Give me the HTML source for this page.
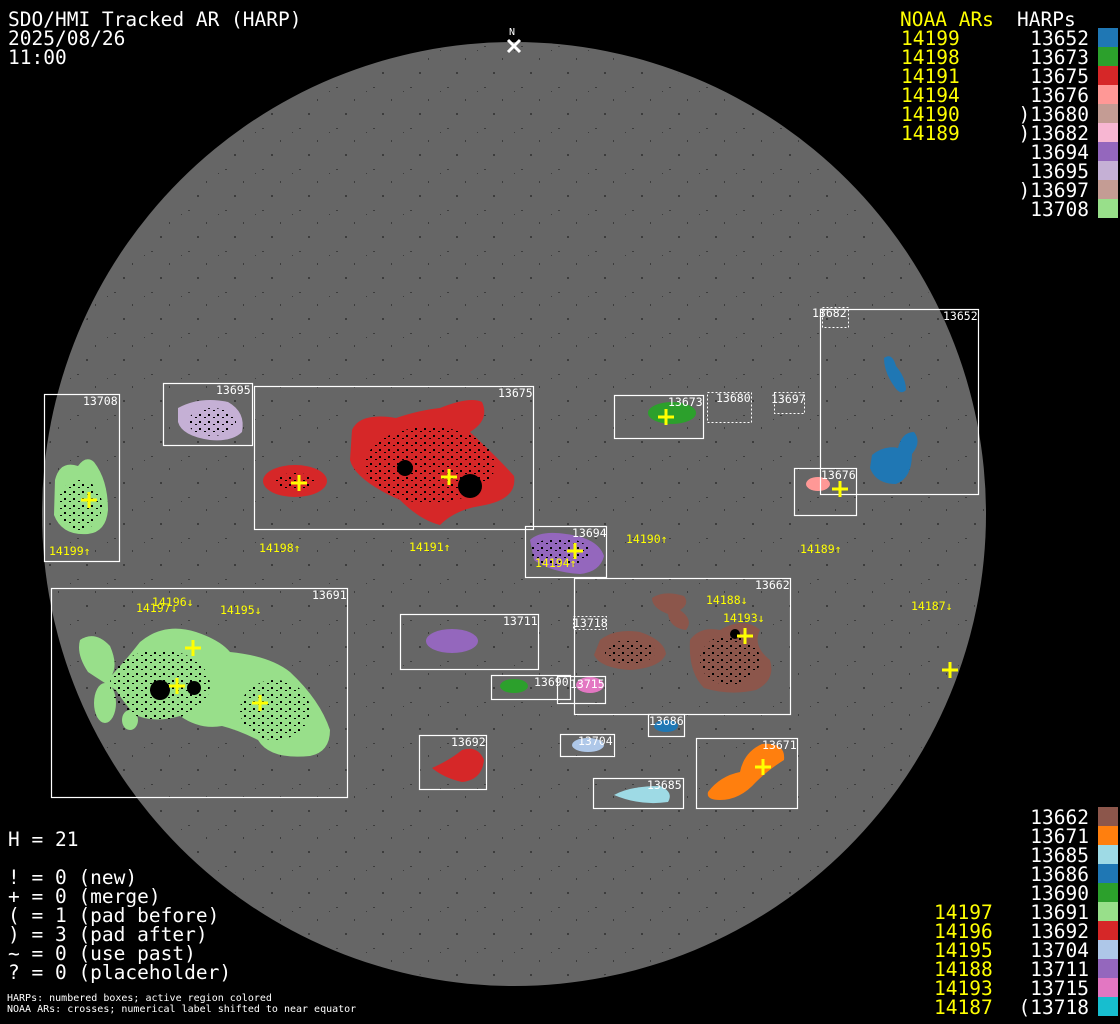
<!DOCTYPE html>
<html><head><meta charset="utf-8"><style>
html,body{margin:0;padding:0;background:#000;}
svg{display:block;}
.t{font-family:"DejaVu Sans Mono","Liberation Mono",monospace;font-size:19.5px;fill:#fff;}
.y{fill:#ffff00;}
.b{font-family:"DejaVu Sans Mono","Liberation Mono",monospace;font-size:11.5px;fill:#fff;}
.l{font-family:"DejaVu Sans Mono","Liberation Mono",monospace;font-size:11.5px;fill:#ffff00;}
.s{font-family:"DejaVu Sans Mono","Liberation Mono",monospace;font-size:10px;fill:#fff;}
.bx{fill:none;stroke:#fff;stroke-width:1.2;}
.dx{fill:none;stroke:#fff;stroke-width:1;stroke-dasharray:2 2;}
.cr{stroke:#ffff00;stroke-width:3;}
</style></head><body>
<svg width="1120" height="1024" viewBox="0 0 1120 1024" xmlns="http://www.w3.org/2000/svg">
<defs>
<pattern id="sp" width="37" height="41" patternUnits="userSpaceOnUse">
<rect x="3" y="5" width="2" height="1" fill="#000"/>
<rect x="21" y="17" width="1" height="2" fill="#000"/>
<rect x="12" y="31" width="2" height="2" fill="#000"/>
<rect x="33" y="9" width="1" height="1" fill="#000"/>
</pattern>
<pattern id="dk" width="9" height="7" patternUnits="userSpaceOnUse">
<rect x="1" y="1" width="2" height="2" fill="#000"/>
<rect x="6" y="4" width="2" height="1" fill="#000"/>
</pattern>
</defs>
<rect width="1120" height="1024" fill="#000"/>
<circle cx="514" cy="514" r="472" fill="#666"/>
<circle cx="514" cy="514" r="470" fill="url(#sp)" opacity="0.4"/>

<g>
<path d="M55,480 Q60,460 78,466 Q86,455 94,462 Q108,480 108,510 Q106,532 88,534 Q62,536 54,515 Z" fill="#98df8a"/>
<path d="M178,408 Q200,396 228,402 Q246,412 242,432 Q232,442 210,440 Q182,436 178,422 Z" fill="#c5b0d5"/>
<ellipse cx="295" cy="481" rx="32" ry="16" fill="#d62728"/>
<path d="M352,430 Q360,412 396,418 Q420,410 440,408 Q470,396 482,402 Q490,420 470,432 Q500,460 514,476 Q518,500 480,506 Q455,510 440,525 Q420,520 400,500 Q355,480 350,460 Z" fill="#d62728"/>
<circle cx="470" cy="486" r="12" fill="#000"/>
<circle cx="405" cy="468" r="8" fill="#000"/>
<ellipse cx="672" cy="413" rx="24" ry="11" fill="#2ca02c"/>
<path d="M884,358 Q892,352 896,366 Q906,378 906,390 Q900,396 894,386 Q884,372 884,358 Z" fill="#1f77b4"/>
<path d="M872,455 Q884,445 898,448 Q902,432 914,432 Q922,442 912,454 Q912,478 896,484 Q876,484 870,468 Z" fill="#1f77b4"/>
<ellipse cx="818" cy="484" rx="12" ry="7" fill="#ff9896"/>
<path d="M530,540 Q540,530 566,534 Q598,538 604,556 Q600,572 580,574 Q550,572 534,560 Z" fill="#9467bd"/>
<path d="M80,640 Q95,630 110,646 Q118,664 112,675 Q126,660 140,642 Q164,622 196,632 Q220,640 230,652 Q270,656 290,672 Q320,700 330,730 Q330,752 310,756 Q270,760 258,740 Q238,730 222,726 Q200,730 180,716 Q152,724 134,714 Q122,700 116,690 Q100,680 88,672 Q76,654 80,640 Z" fill="#98df8a"/>
<ellipse cx="105" cy="703" rx="11" ry="20" fill="#98df8a"/>
<ellipse cx="130" cy="720" rx="8" ry="10" fill="#98df8a"/>
<ellipse cx="452" cy="641" rx="26" ry="12" fill="#9467bd"/>
<ellipse cx="514" cy="686" rx="14" ry="7" fill="#2ca02c"/>
<ellipse cx="590" cy="685" rx="14" ry="8" fill="#e377c2"/>
<path d="M600,640 Q615,628 640,632 Q664,640 666,654 Q660,668 630,670 Q600,668 594,655 Z" fill="#8c564b"/>
<path d="M652,598 Q664,590 684,596 Q690,604 680,610 Q694,620 686,630 Q670,628 668,614 Q652,608 652,598 Z" fill="#8c564b"/>
<path d="M690,640 Q700,626 720,630 Q744,616 760,630 Q752,646 770,660 Q776,680 756,690 Q730,696 704,688 Q688,672 690,640 Z" fill="#8c564b"/>
<ellipse cx="666" cy="726" rx="12" ry="6" fill="#1f77b4"/>
<path d="M432,768 Q450,760 462,750 Q478,745 484,760 Q482,780 462,782 Q444,778 432,768 Z" fill="#d62728"/>
<ellipse cx="588" cy="745" rx="16" ry="7" fill="#aec7e8"/>
<path d="M708,792 Q720,776 740,772 Q744,752 762,744 Q786,742 784,760 Q768,770 756,782 Q740,800 720,800 Q706,800 708,792 Z" fill="#ff7f0e"/>
<path d="M614,795 Q630,786 660,786 Q674,792 668,802 Q640,806 614,795 Z" fill="#9edae5"/>
</g>
<g fill="url(#dk)">
<ellipse cx="80" cy="505" rx="22" ry="25"/>
<ellipse cx="212" cy="422" rx="24" ry="14"/>
<ellipse cx="295" cy="481" rx="20" ry="8"/>
<ellipse cx="430" cy="465" rx="65" ry="38"/>
<ellipse cx="160" cy="685" rx="50" ry="35"/>
<ellipse cx="275" cy="710" rx="35" ry="30"/>
<ellipse cx="630" cy="652" rx="25" ry="12"/>
<ellipse cx="730" cy="660" rx="30" ry="25"/>
<ellipse cx="560" cy="552" rx="30" ry="14"/>
</g>
<circle cx="160" cy="690" r="10" fill="#000"/>
<circle cx="194" cy="688" r="7" fill="#000"/>
<circle cx="735" cy="634" r="5" fill="#000"/>

<rect class="bx" x="44.5" y="394.5" width="75" height="167"/>
<rect class="bx" x="163.5" y="383.5" width="89" height="62"/>
<rect class="bx" x="254.5" y="386.5" width="279" height="143"/>
<rect class="bx" x="614.5" y="395.5" width="89" height="43"/>
<rect class="dx" x="707.5" y="392.5" width="44" height="30"/>
<rect class="dx" x="774.5" y="392.5" width="30" height="21"/>
<rect class="dx" x="822.5" y="307.5" width="26" height="20"/>
<rect class="bx" x="820.5" y="309.5" width="158" height="185"/>
<rect class="bx" x="794.5" y="468.5" width="62" height="47"/>
<rect class="bx" x="525.5" y="526.5" width="81" height="51"/>
<rect class="bx" x="51.5" y="588.5" width="296" height="209"/>
<rect class="bx" x="400.5" y="614.5" width="138" height="55"/>
<rect class="bx" x="574.5" y="578.5" width="216" height="136"/>
<rect class="dx" x="573.5" y="616.5" width="33" height="13"/>
<rect class="bx" x="491.5" y="675.5" width="79" height="24"/>
<rect class="bx" x="557.5" y="676.5" width="48" height="27"/>
<rect class="bx" x="648.5" y="714.5" width="36" height="22"/>
<rect class="bx" x="419.5" y="735.5" width="67" height="54"/>
<rect class="bx" x="560.5" y="734.5" width="54" height="22"/>
<rect class="bx" x="696.5" y="738.5" width="101" height="70"/>
<rect class="bx" x="593.5" y="778.5" width="90" height="30"/>

<text class="b" x="83" y="405">13708</text>
<text class="b" x="216" y="394">13695</text>
<text class="b" x="498" y="397">13675</text>
<text class="b" x="668" y="406">13673</text>
<text class="b" x="716" y="402">13680</text>
<text class="b" x="771" y="403">13697</text>
<text class="b" x="812" y="317">13682</text>
<text class="b" x="943" y="320">13652</text>
<text class="b" x="821" y="479">13676</text>
<text class="b" x="572" y="537">13694</text>
<text class="b" x="312" y="599">13691</text>
<text class="b" x="503" y="625">13711</text>
<text class="b" x="755" y="589">13662</text>
<text class="b" x="573" y="627">13718</text>
<text class="b" x="534" y="686">13690</text>
<text class="b" x="570" y="688">13715</text>
<text class="b" x="649" y="725">13686</text>
<text class="b" x="451" y="746">13692</text>
<text class="b" x="578" y="745">13704</text>
<text class="b" x="762" y="749">13671</text>
<text class="b" x="647" y="789">13685</text>

<text class="l" x="49" y="555">14199↑</text>
<text class="l" x="259" y="552">14198↑</text>
<text class="l" x="409" y="551">14191↑</text>
<text class="l" x="535" y="567">14194↑</text>
<text class="l" x="626" y="543">14190↑</text>
<text class="l" x="800" y="553">14189↑</text>
<text class="l" x="911" y="610">14187↓</text>
<text class="l" x="706" y="604">14188↓</text>
<text class="l" x="723" y="622">14193↓</text>
<text class="l" x="152" y="606">14196↓</text>
<text class="l" x="136" y="612">14197↓</text>
<text class="l" x="220" y="614">14195↓</text>

<g class="cr">
<path d="M81,500h16M89,492v16"/>
<path d="M291,483h16M299,475v16"/>
<path d="M441,477h16M449,469v16"/>
<path d="M658,417h16M666,409v16"/>
<path d="M832,489h16M840,481v16"/>
<path d="M567,551h16M575,543v16"/>
<path d="M737,636h16M745,628v16"/>
<path d="M185,648h16M193,640v16"/>
<path d="M169,686h16M177,678v16"/>
<path d="M252,703h16M260,695v16"/>
<path d="M755,767h16M763,759v16"/>
<path d="M942,670h16M950,662v16"/>
</g>

<text class="s" x="509" y="35" font-size="9">N</text>
<path d="M508,40l12,12M520,40l-12,12" stroke="#fff" stroke-width="3"/>

<text class="t" x="8" y="26" font-size="19.9">SDO/HMI Tracked AR (HARP)</text>
<text class="t" x="8" y="45">2025/08/26</text>
<text class="t" x="8" y="64">11:00</text>

<text class="t y" x="900" y="26">NOAA ARs</text>
<text class="t" x="1017" y="26">HARPs</text>
<g class="t y">
<text x="901" y="45">14199</text><text x="901" y="64">14198</text><text x="901" y="83">14191</text>
<text x="901" y="102">14194</text><text x="901" y="121">14190</text><text x="901" y="140">14189</text>
</g>
<g class="t" text-anchor="end">
<text x="1089" y="45">13652</text><text x="1089" y="64">13673</text><text x="1089" y="83">13675</text>
<text x="1089" y="102">13676</text><text x="1089" y="121">)13680</text><text x="1089" y="140">)13682</text>
<text x="1089" y="159">13694</text><text x="1089" y="178">13695</text><text x="1089" y="197">)13697</text>
<text x="1089" y="216">13708</text>
</g>
<rect x="1098" y="28" width="20" height="19" fill="#1f77b4"/>
<rect x="1098" y="47" width="20" height="19" fill="#2ca02c"/>
<rect x="1098" y="66" width="20" height="19" fill="#d62728"/>
<rect x="1098" y="85" width="20" height="19" fill="#ff9896"/>
<rect x="1098" y="104" width="20" height="19" fill="#c49c94"/>
<rect x="1098" y="123" width="20" height="19" fill="#f7b6d2"/>
<rect x="1098" y="142" width="20" height="19" fill="#9467bd"/>
<rect x="1098" y="161" width="20" height="19" fill="#c5b0d5"/>
<rect x="1098" y="180" width="20" height="19" fill="#c49c94"/>
<rect x="1098" y="199" width="20" height="19" fill="#98df8a"/>

<g class="t" text-anchor="end">
<text x="1089" y="824">13662</text><text x="1089" y="843">13671</text><text x="1089" y="862">13685</text>
<text x="1089" y="881">13686</text><text x="1089" y="900">13690</text><text x="1089" y="919">13691</text>
<text x="1089" y="938">13692</text><text x="1089" y="957">13704</text><text x="1089" y="976">13711</text>
<text x="1089" y="995">13715</text><text x="1089" y="1014">(13718</text>
</g>
<g class="t y">
<text x="934" y="919">14197</text><text x="934" y="938">14196</text><text x="934" y="957">14195</text>
<text x="934" y="976">14188</text><text x="934" y="995">14193</text><text x="934" y="1014">14187</text>
</g>
<rect x="1098" y="807" width="20" height="19" fill="#8c564b"/>
<rect x="1098" y="826" width="20" height="19" fill="#ff7f0e"/>
<rect x="1098" y="845" width="20" height="19" fill="#9edae5"/>
<rect x="1098" y="864" width="20" height="19" fill="#1f77b4"/>
<rect x="1098" y="883" width="20" height="19" fill="#2ca02c"/>
<rect x="1098" y="902" width="20" height="19" fill="#98df8a"/>
<rect x="1098" y="921" width="20" height="19" fill="#d62728"/>
<rect x="1098" y="940" width="20" height="19" fill="#aec7e8"/>
<rect x="1098" y="959" width="20" height="19" fill="#9467bd"/>
<rect x="1098" y="978" width="20" height="19" fill="#e377c2"/>
<rect x="1098" y="997" width="20" height="19" fill="#17becf"/>

<text class="t" x="8" y="846">H = 21</text>
<text class="t" x="8" y="884">! = 0 (new)</text>
<text class="t" x="8" y="903">+ = 0 (merge)</text>
<text class="t" x="8" y="922">( = 1 (pad before)</text>
<text class="t" x="8" y="941">) = 3 (pad after)</text>
<text class="t" x="8" y="960">~ = 0 (use past)</text>
<text class="t" x="8" y="979">? = 0 (placeholder)</text>
<text class="s" x="7" y="1001">HARPs: numbered boxes; active region colored</text>
<text class="s" x="7" y="1012">NOAA ARs: crosses; numerical label shifted to near equator</text>
</svg>
</body></html>
